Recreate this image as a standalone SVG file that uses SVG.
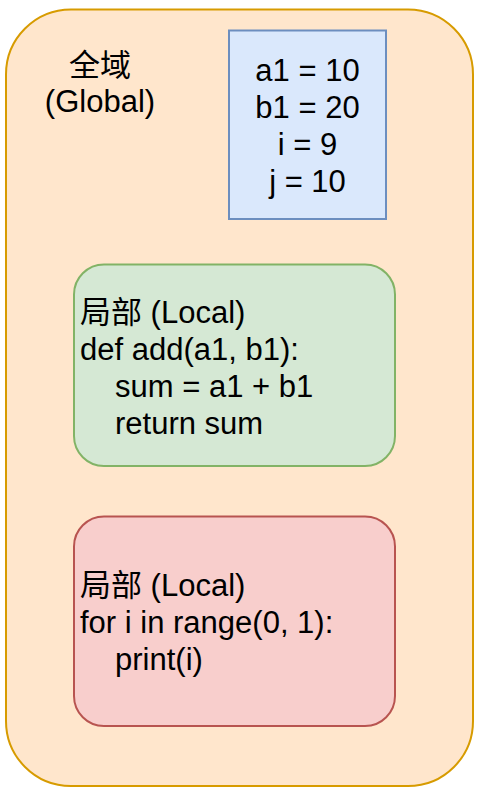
<svg xmlns="http://www.w3.org/2000/svg" width="480" height="801" viewBox="0 0 480 801">
<style>
text{font-family:"Liberation Sans","Noto Sans CJK SC",Arial,sans-serif;font-size:31px;fill:#000}
.c{text-anchor:middle}
</style>
<rect width="480" height="801" fill="#ffffff"/>
<g id="global">
<rect x="6" y="9.5" width="467" height="776.5" rx="65" ry="65" fill="#ffe6cc" stroke="#d79b00" stroke-width="2"/>
<text class="c" x="100" y="76">全域</text>
<text class="c" x="100" y="112">(Global)</text>
</g>
<g id="vars">
<rect x="229" y="30.5" width="157" height="188.5" fill="#dae8fc" stroke="#6c8ebf" stroke-width="2"/>
<text class="c" x="307.5" y="81">a1 = 10</text>
<text class="c" x="307.5" y="118">b1 = 20</text>
<text class="c" x="307.5" y="155">i = 9</text>
<text class="c" x="307.5" y="192">j = 10</text>
</g>
<g id="local-add">
<rect x="74" y="264.5" width="321" height="201.5" rx="30" ry="30" fill="#d5e8d4" stroke="#82b366" stroke-width="2"/>
<text x="80" y="323">局部 (Local)</text>
<text x="80" y="360">def add(a1, b1):</text>
<text x="115" y="397">sum = a1 + b1</text>
<text x="115" y="434">return sum</text>
</g>
<g id="local-for">
<rect x="74" y="516.5" width="321" height="209.5" rx="30" ry="30" fill="#f8cecc" stroke="#b85450" stroke-width="2"/>
<text x="80" y="596">局部 (Local)</text>
<text x="80" y="633">for i in range(0, 1):</text>
<text x="115" y="670">print(i)</text>
</g>
<g id="connectors"></g>
</svg>
